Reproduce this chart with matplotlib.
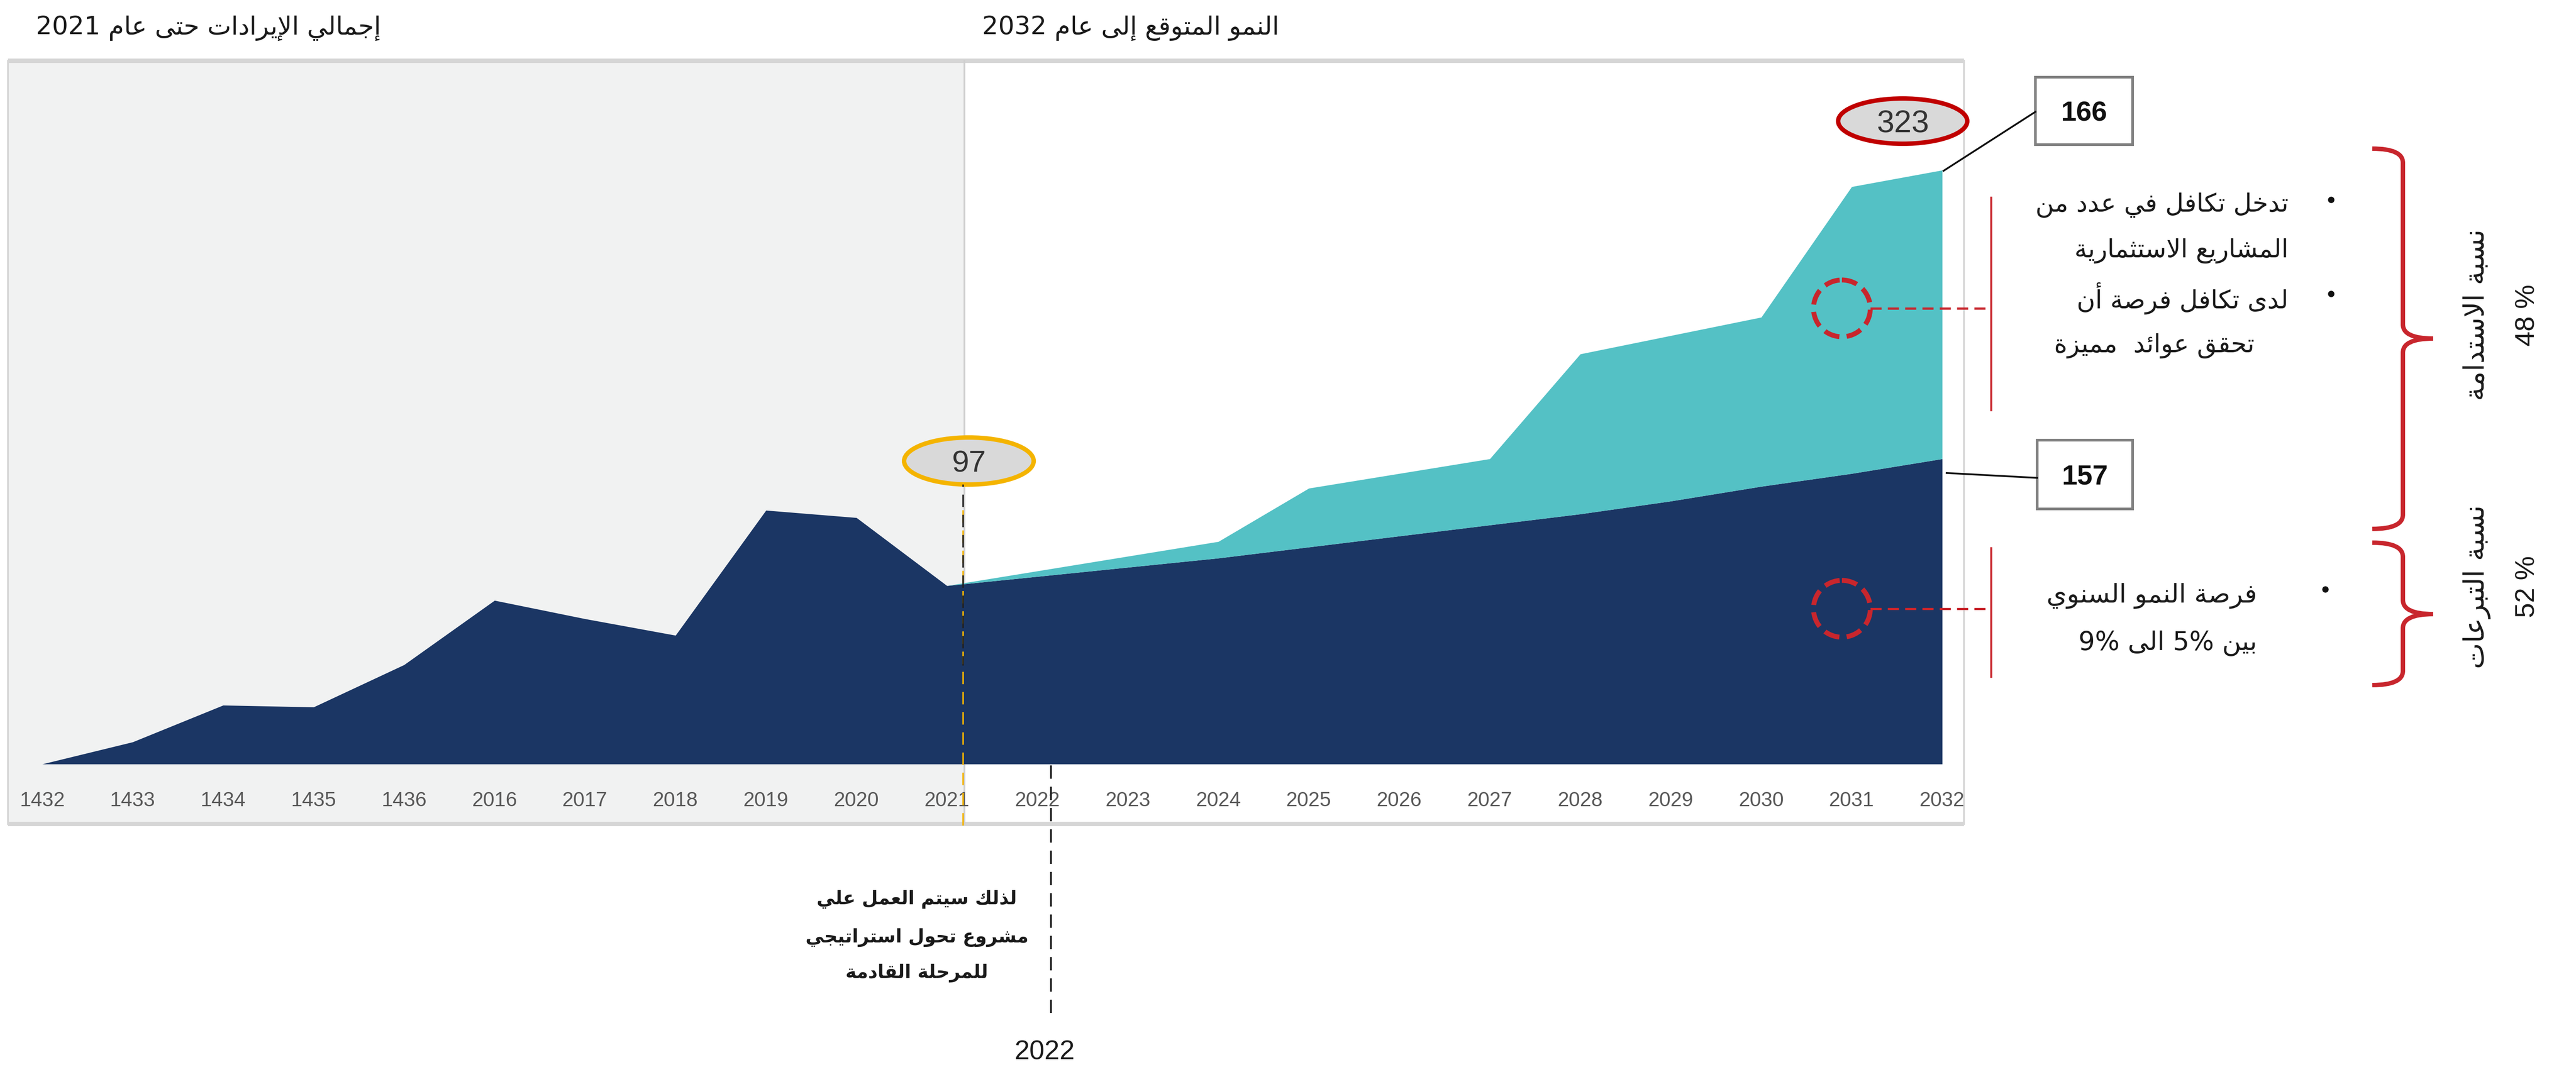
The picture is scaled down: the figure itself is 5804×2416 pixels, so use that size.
import re
import matplotlib
matplotlib.use("Agg")
import matplotlib.pyplot as plt
from matplotlib.patches import Rectangle, Ellipse, Circle, PathPatch
from matplotlib.path import Path

W, H = 5804, 2416
PT = 0.72  # points per pixel at dpi=100

# ---------------------------------------------------------------- data
years = ['1432', '1433', '1434', '1435', '1436', '2016', '2017', '2018', '2019',
         '2020', '2021', '2022', '2023', '2024', '2025', '2026', '2027', '2028',
         '2029', '2030', '2031', '2032']
donations = [0, 12, 32, 31, 54, 89, 79, 70, 138, 134, 97,
             102, 107, 112, 118, 124, 130, 136, 143, 151, 158, 166]
forecast_years = years[10:]
sustainability = [0, 3, 6, 9, 32, 34, 36, 87, 90, 92, 156, 157]
share_labels = ['48 %', '52 %']

title_left = 'إجمالي الإيرادات حتى عام 2021'
title_right = 'النمو المتوقع إلى عام 2032'
top_lines = ['تدخل تكافل في عدد من', 'المشاريع الاستثمارية',
             'لدى تكافل فرصة أن', 'تحقق عوائد  مميزة']
bottom_lines = ['فرصة النمو السنوي', 'بين 5% الى 9%']
share_titles = ['نسبة الاستدامة', 'نسبة التبرعات']
note_lines = ['لذلك سيتم العمل علي', 'مشروع تحول استراتيجي', 'للمرحلة القادمة']
milestone = '2022'

NAVY = '#1b3664'
TEAL = '#54c1c5'
RED = '#c8262d'
GOLD = '#f4b400'

# ------------------------------------------------- Arabic shaping helpers
_FORMS = [('\u0621', 0xFE80, 1), ('\u0622', 0xFE81, 2), ('\u0623', 0xFE83, 2),
          ('\u0624', 0xFE85, 2), ('\u0625', 0xFE87, 2), ('\u0626', 0xFE89, 4),
          ('\u0627', 0xFE8D, 2), ('\u0628', 0xFE8F, 4), ('\u0629', 0xFE93, 2),
          ('\u062A', 0xFE95, 4), ('\u062B', 0xFE99, 4), ('\u062C', 0xFE9D, 4),
          ('\u062D', 0xFEA1, 4), ('\u062E', 0xFEA5, 4), ('\u062F', 0xFEA9, 2),
          ('\u0630', 0xFEAB, 2), ('\u0631', 0xFEAD, 2), ('\u0632', 0xFEAF, 2),
          ('\u0633', 0xFEB1, 4), ('\u0634', 0xFEB5, 4), ('\u0635', 0xFEB9, 4),
          ('\u0636', 0xFEBD, 4), ('\u0637', 0xFEC1, 4), ('\u0638', 0xFEC5, 4),
          ('\u0639', 0xFEC9, 4), ('\u063A', 0xFECD, 4), ('\u0641', 0xFED1, 4),
          ('\u0642', 0xFED5, 4), ('\u0643', 0xFED9, 4), ('\u0644', 0xFEDD, 4),
          ('\u0645', 0xFEE1, 4), ('\u0646', 0xFEE5, 4), ('\u0647', 0xFEE9, 4),
          ('\u0648', 0xFEED, 2), ('\u0649', 0xFEEF, 2), ('\u064A', 0xFEF1, 4)]
_AR = {c: (b, n) for c, b, n in _FORMS}
_LAM_ALEF = {'\u0622': 0xFEF5, '\u0623': 0xFEF7, '\u0625': 0xFEF9, '\u0627': 0xFEFB}


def _dual(ch):
    return ch in _AR and _AR[ch][1] == 4


def _shape(s):
    out, i, n = [], 0, len(s)
    while i < n:
        ch = s[i]
        if ch not in _AR:
            out.append(ch)
            i += 1
            continue
        link_prev = i > 0 and _dual(s[i - 1])
        if ch == '\u0644' and i + 1 < n and s[i + 1] in _LAM_ALEF:
            out.append(chr(_LAM_ALEF[s[i + 1]] + (1 if link_prev else 0)))
            i += 2
            continue
        base, forms = _AR[ch]
        nxt = s[i + 1] if i + 1 < n else ''
        link_next = forms == 4 and nxt in _AR and nxt != '\u0621'
        if forms == 1:
            code = base
        elif forms == 2:
            code = base + (1 if link_prev else 0)
        elif link_prev and link_next:
            code = base + 3
        elif link_next:
            code = base + 2
        elif link_prev:
            code = base + 1
        else:
            code = base
        out.append(chr(code))
        i += 1
    return ''.join(out)


_LTR = r'[0-9A-Za-z%.]+'


def ar(s):
    parts = re.split('(' + _LTR + ')', _shape(s))
    return ''.join(p if re.fullmatch(_LTR, p) else p[::-1] for p in reversed(parts))


AR_FONT = ['DejaVu Sans']
NUM_FONT = ['Liberation Sans', 'DejaVu Sans']

# ---------------------------------------------------------------- figure
fig = plt.figure(figsize=(W / 100, H / 100), dpi=100)
fig.patch.set_facecolor('white')

# pixel-space background layer
bg = fig.add_axes([0, 0, 1, 1], zorder=0)
bg.set_xlim(0, W)
bg.set_ylim(H, 0)
bg.axis('off')

# chart frame: shaded history panel + forecast panel
bg.add_patch(Rectangle((18, 137), 2173 - 18, 1857 - 137, fc='#f1f2f2', ec='none'))
for y in (137, 1857):
    bg.plot([18, 4425], [y, y], color='#d6d6d6', lw=10 * PT, solid_capstyle='butt')
for x in (18, 4425):
    bg.plot([x, x], [137, 1857], color='#d6d6d6', lw=4 * PT)
bg.plot([2173, 2173], [137, 1857], color='#cfcfcf', lw=4 * PT)

# data axes (baseline at y=1722 px, 4.144 px per unit)
base_px, top_px = 1722, 137
x0_px, x1_px = 95, 4376
ax = fig.add_axes([x0_px / W, (H - base_px) / H, (x1_px - x0_px) / W,
                   (base_px - top_px) / H], zorder=1)
ax.patch.set_visible(False)
for sp in ax.spines.values():
    sp.set_visible(False)
ax.set_xlim(0, len(years) - 1)
ax.set_ylim(0, (base_px - top_px) / 4.144)
ax.set_yticks([])

xs = list(range(len(years)))
xf = xs[10:]
don_f = donations[10:]
total_f = [d + s for d, s in zip(don_f, sustainability)]
ax.fill_between(xs, 0, donations, color=NAVY, lw=0)
ax.fill_between(xf, don_f, total_f, color=TEAL, lw=0)

ax.set_xticks(xs)
ax.set_xticklabels(years, fontsize=33, color='#595959', family=NUM_FONT)
ax.tick_params(axis='x', length=0, pad=44)

# overlay layer for annotations
top = fig.add_axes([0, 0, 1, 1], zorder=2)
top.set_xlim(0, W)
top.set_ylim(H, 0)
top.axis('off')


def num_text(axis, x, y, s, size, **kw):
    # vertically centre digits on y using cap height
    axis.text(x, y + 0.716 * size / PT / 2, s, fontsize=size, ha='center',
              va='baseline', family=NUM_FONT, **kw)


# titles
bg.text(81, 63, ar(title_left), fontsize=41, family=AR_FONT, ha='left',
        va='center', color='#1a1a1a')
bg.text(2213, 63, ar(title_right), fontsize=41, family=AR_FONT, ha='left',
        va='center', color='#1a1a1a')

# 2021 marker
top.plot([2170, 2170], [1150, 1870], color=GOLD, lw=3.5 * PT, ls=(0, (8, 5)))
top.plot([2170, 2170], [1092, 1500], color='#222222', lw=3.5 * PT, ls=(6.5, (8, 5)))
top.add_patch(Ellipse((2183, 1039), 292, 106, fc='#d9d9d9', ec=GOLD, lw=10 * PT))
num_text(top, 2183, 1039, str(donations[10]), 50, color='#333333')

# 2032 total
top.add_patch(Ellipse((4287, 273), 291, 102, fc='#d9d9d9', ec='#c00000', lw=10 * PT))
num_text(top, 4287, 273, str(total_f[-1]), 51, color='#333333')

# value boxes with leader lines
top.plot([4379, 4586], [385, 252], color='#111111', lw=4 * PT)
top.plot([4386, 4590], [1066, 1077], color='#111111', lw=4 * PT)
for (bx0, by0, bx1, by1), val in [((4586, 174, 4805, 326), donations[-1]),
                                  ((4590, 992, 4805, 1147), sustainability[-1])]:
    top.add_patch(Rectangle((bx0, by0), bx1 - bx0, by1 - by0, fc='white',
                            ec='#808080', lw=6 * PT))
    num_text(top, (bx0 + bx1) / 2, (by0 + by1) / 2, str(val), 45,
             color='#111111', fontweight='bold')

# red dashed call-outs
for cy, (vy0, vy1) in [(695, (445, 924)), (1372, (1235, 1525))]:
    top.add_patch(Circle((4150, cy), 64, fill=False, ec=RED, lw=11 * PT,
                         ls=(0, (3.2, 1.5))))
    top.plot([4214, 4486], [cy, cy], color=RED, lw=5 * PT, ls=(0, (5, 2.8)))
    top.plot([4486, 4486], [vy0, vy1], color=RED, lw=4.5 * PT)

# bullet text blocks
for y, line in zip([462, 566, 673, 779], top_lines):
    right = 5156 if line != top_lines[-1] else 5080
    bg.text(right, y, ar(line), fontsize=41, family=AR_FONT, ha='right',
            va='center', color='#1a1a1a')
for y, line in zip([1343, 1450], bottom_lines):
    bg.text(5085, y, ar(line), fontsize=42, family=AR_FONT, ha='right',
            va='center', color='#1a1a1a')
bg.plot([5252, 5252, 5239], [450, 662, 1328], 'o', color='#111111', ms=13 * PT)


# braces
def brace(axis, yt, ym, yb, x0=5345, xs=5414, xt=5482, r=32):
    verts = [(x0, yt), (xs, yt), (xs, yt + r), (xs, ym - r), (xs, ym), (xt, ym),
             (xs, ym), (xs, ym + r), (xs, yb - r), (xs, yb), (x0, yb)]
    codes = [Path.MOVETO, Path.CURVE3, Path.CURVE3, Path.LINETO, Path.CURVE3,
             Path.CURVE3, Path.CURVE3, Path.CURVE3, Path.LINETO, Path.CURVE3,
             Path.CURVE3]
    axis.add_patch(PathPatch(Path(verts, codes), fill=False, ec=RED, lw=10 * PT,
                             joinstyle='miter', capstyle='butt'))


brace(bg, 335, 763, 1192)
brace(bg, 1223, 1384, 1544)

# share labels (rotated)
for cy, title, share in [(710, share_titles[0], share_labels[0]),
                         (1322, share_titles[1], share_labels[1])]:
    bg.text(5580, cy, ar(title), rotation=90, fontsize=45, family=AR_FONT,
            ha='center', va='center', color='#1a1a1a')
    bg.text(5695, cy, share, rotation=90, fontsize=44, family=NUM_FONT,
            ha='center', va='center', color='#1a1a1a')

# 2022 milestone
top.plot([2368, 2368], [1725, 2300], color='#222222', lw=4 * PT, ls=(0, (7.5, 4.5)))
num_text(bg, 2354, 2366, milestone, 44, color='#1a1a1a')
for y, line in zip([2027, 2113, 2193], note_lines):
    bg.text(2066, y, ar(line), fontsize=30, family=AR_FONT, fontweight='bold',
            ha='center', va='center', color='#1a1a1a')

fig.savefig('out.png', dpi=100, facecolor='white')
